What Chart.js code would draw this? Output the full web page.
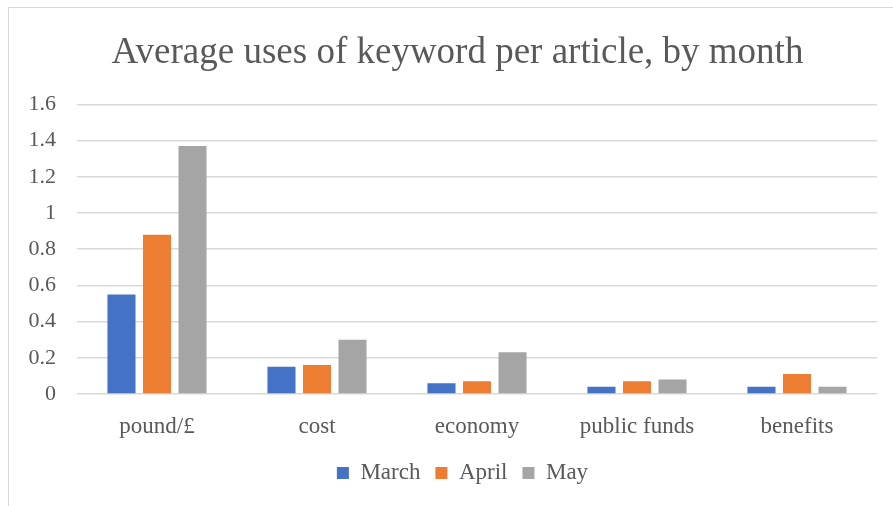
<!DOCTYPE html>
<html>
<head>
<meta charset="utf-8">
<script src="https://cdn.jsdelivr.net/npm/chart.js@4/dist/chart.umd.min.js"></script>
<style>
  body { margin: 0; background: #fff; }
  #wrap { width: 893px; height: 506px; }
</style>
</head>
<body>
<div id="wrap"><canvas id="chart" width="893" height="506"></canvas></div>
<script>
'use strict'

var keywords = ['pound/£', 'cost', 'economy', 'public funds', 'benefits'];
var march = [0.55, 0.15, 0.06, 0.04, 0.04];
var april = [0.88, 0.16, 0.07, 0.07, 0.11];
var may = [1.37, 0.30, 0.23, 0.08, 0.04];

var yTicks = [0, 0.2, 0.4, 0.6, 0.8, 1, 1.2, 1.4, 1.6];

var textGrey = '#595959';
var serif = "'Liberation Serif', 'Times New Roman', serif";

// light frame round the chart, like the spreadsheet chart box
var frame = {
	id: 'frame',
	beforeDraw: function(chart) {
		var c = chart.ctx;
		c.save();
		c.strokeStyle = '#d9d9d9';
		c.lineWidth = 1;
		c.strokeRect(8.5, 7.5, 900, 520);
		c.restore();
	}
};

// title and legend sit centred over the plot rather than the whole canvas
var nudge = {
	id: 'nudge',
	afterLayout: function(chart) {
		chart.titleBlock.left += 19;
		chart.titleBlock.right += 19;
		chart.legend.left += 24;
		chart.legend.right += 24;
	}
};

window.onload = function(){
	var ctx = document.getElementById('chart').getContext('2d');

	var myBarChart = new Chart(ctx, {
		type: 'bar',
		data: {
			labels: keywords,
			datasets: [
				{ label: 'March', data: march, backgroundColor: '#4472C4' },
				{ label: 'April', data: april, backgroundColor: '#ED7D31' },
				{ label: 'May', data: may, backgroundColor: '#A5A5A5' }
			]
		},
		options: {
			responsive: false,
			animation: false,
			categoryPercentage: 0.666,
			barPercentage: 0.79,
			layout: {
				padding: { left: 0, right: 16, top: 0, bottom: 11.5 }
			},
			plugins: {
				title: {
					display: true,
					text: 'Average uses of keyword per article, by month',
					color: textGrey,
					font: { family: serif, size: 37, weight: 'normal' },
					padding: { top: 31, bottom: 29 }
				},
				legend: {
					position: 'bottom',
					labels: {
						color: textGrey,
						font: { family: serif, size: 23 },
						boxWidth: 12,
						boxHeight: 12,
						padding: 15
					}
				},
				tooltip: { enabled: false }
			},
			scales: {
				x: {
					grid: { display: false, drawTicks: false },
					border: { display: false },
					afterFit: function(scale) {
						scale.height = 52.5;
					},
					ticks: {
						color: textGrey,
						font: { family: serif, size: 23, lineHeight: 1 },
						padding: 21
					}
				},
				y: {
					min: 0,
					max: 1.6,
					afterBuildTicks: function(scale) {
						scale.ticks = yTicks.map(function(v) { return { value: v }; });
					},
					afterFit: function(scale) {
						scale.width = 77;
					},
					grid: { color: '#d9d9d9', lineWidth: 1.5, drawTicks: false },
					border: { display: false },
					ticks: {
						color: textGrey,
						font: { family: serif, size: 22 },
						padding: 21,
						callback: function(v) { return String(Math.round(v * 10) / 10); }
					}
				}
			}
		},
		plugins: [frame, nudge]
	});
}
</script>
</body>
</html>
